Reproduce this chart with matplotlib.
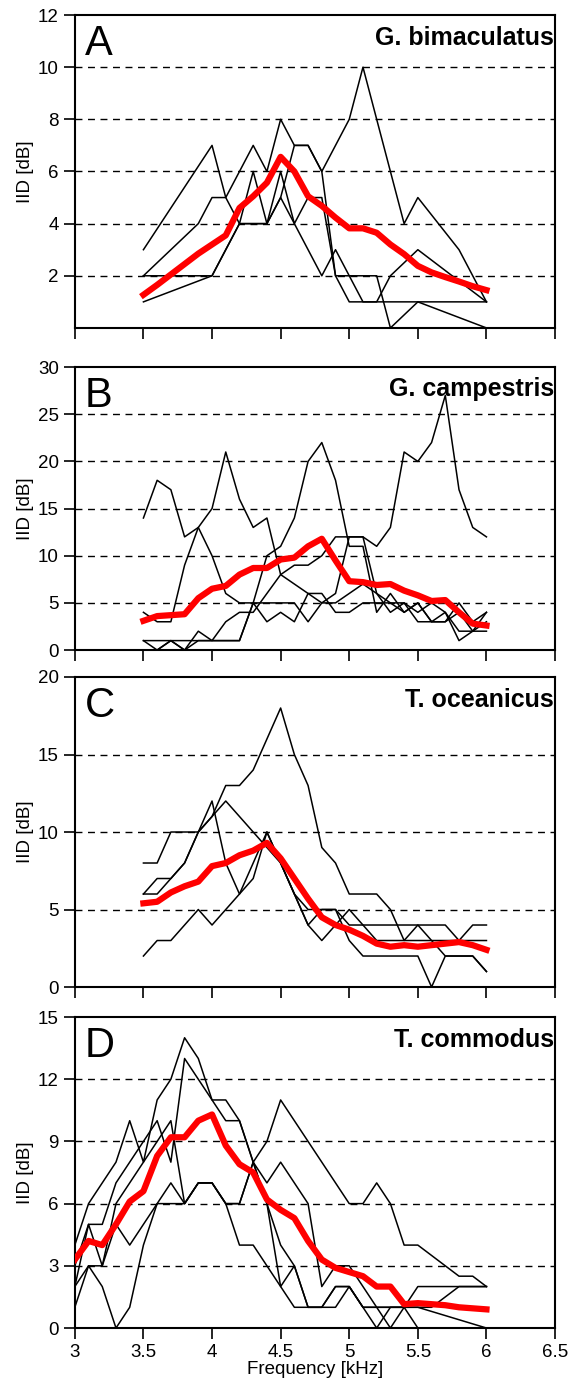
import numpy as np
import matplotlib
matplotlib.use("Agg")
import matplotlib.pyplot as plt

plt.rcParams['font.family'] = ['Liberation Sans', 'DejaVu Sans']

step = list(np.round(np.arange(3.5, 6.01, 0.1), 1))
step_d = list(np.round(np.arange(3.0, 6.01, 0.1), 1))

# Panel A - G. bimaculatus
a_lines = [
    ([3.5, 4.0, 4.1, 4.2, 4.3, 4.4, 4.5, 4.6, 4.8, 4.9, 5.0, 5.1, 5.2, 5.3, 5.5, 6.0],
     [3, 7, 5, 4, 4, 4, 5, 4, 2, 3, 2, 2, 2, 0, 1, 0]),
    ([3.5, 3.9, 4.0, 4.1, 4.3, 4.4, 4.5, 4.6, 4.7, 4.8, 5.0, 5.1, 5.2, 5.4, 5.5, 5.8, 6.0],
     [2, 4, 5, 5, 7, 6, 8, 7, 7, 6, 8, 10, 8, 4, 5, 3, 1]),
    ([3.5, 4.0, 4.2, 4.4, 4.5, 4.6, 4.7, 4.8, 4.9, 5.0, 5.2, 5.3, 5.5, 6.0],
     [1, 2, 4, 4, 6, 4, 5, 5, 2, 1, 1, 2, 3, 1]),
    ([3.5, 4.0, 4.2, 4.3, 4.4, 4.5, 4.6, 4.7, 4.8, 4.9, 5.0, 5.1, 5.2, 5.5, 6.0],
     [2, 2, 4, 6, 4, 5, 7, 7, 6, 2, 2, 1, 1, 1, 1]),
]
a_mean = [1.27, 1.65, 2.05, 2.45, 2.85, 3.2, 3.55, 4.6, 5.05, 5.57, 6.56, 6.0, 5.05,
          4.68, 4.23, 3.82, 3.82, 3.65, 3.2, 2.83, 2.38, 2.13, 1.95, 1.78, 1.6, 1.45]

# Panel B - G. campestris
b_lines = [
    [14, 18, 17, 12, 13, 10, 6, 5, 5, 5, 5, 5, 3, 5, 6, 12, 12, 11, 13, 21, 20, 22, 27, 17, 13, 12],
    [4, 3, 3, 9, 13, 15, 21, 16, 13, 14, 8, 7, 6, 5, 5, 6, 7, 6, 4, 5, 3, 3, 4, 2, 2, 3],
    [1, 0, 1, 0, 2, 1, 1, 1, 5, 10, 11, 14, 20, 22, 18, 11, 11, 4, 6, 4, 5, 3, 3, 4, 2, 2],
    [0, 0, 1, 0, 1, 1, 3, 4, 4, 6, 8, 9, 9, 10, 12, 12, 12, 6, 5, 5, 4, 5, 4, 1, 2, 4],
    [1, 1, 1, 1, 1, 1, 1, 1, 5, 3, 4, 3, 6, 6, 4, 4, 5, 5, 5, 4, 5, 3, 3, 5, 3, 4],
]
b_mean = [3.1, 3.6, 3.7, 3.8, 5.5, 6.5, 6.8, 8.0, 8.7, 8.7, 9.6, 9.8, 11.0, 11.8, 9.5,
          7.3, 7.2, 6.9, 7.0, 6.3, 5.8, 5.2, 5.3, 4.0, 2.8, 2.6]

# Panel C - T. oceanicus
c_lines = [
    [6, 7, 7, 8, 10, 11, 13, 13, 14, 16, 18, 15, 13, 9, 8, 6, 6, 6, 5, 3, 4, 4, 4, 3, 3, 3],
    [8, 8, 10, 10, 10, 12, 8, 6, 7, 10, 8, 6, 4, 3, 4, 5, 4, 4, 4, 4, 4, 3, 3, 3, 4, 4],
    [6, 6, 7, 8, 10, 11, 12, 11, 10, 9, 8, 6, 4, 5, 5, 3, 2, 2, 2, 2, 2, 0, 2, 2, 2, 1],
    [2, 3, 3, 4, 5, 4, 5, 6, 8, 10, 8, 6, 5, 5, 5, 4, 4, 3, 3, 3, 3, 3, 2, 2, 2, 1],
]
c_mean = [5.4, 5.5, 6.1, 6.5, 6.8, 7.8, 8.0, 8.5, 8.8, 9.3, 8.3, 7.0, 5.7, 4.5, 4.0,
          3.7, 3.3, 2.8, 2.6, 2.7, 2.6, 2.7, 2.8, 2.9, 2.7, 2.4]

# Panel D - T. commodus
d_lines = [
    [4, 6, 7, 8, 10, 8, 11, 12, 14, 13, 11, 11, 10, 8, 7, 8, 7, 6, 2, 3, 3, 2, 1, 1, 1, 2, 2, 2, 2, 2, 2],
    [3, 5, 5, 7, 8, 9, 10, 8, 13, 12, 11, 10, 10, 8, 9, 11, 10, 9, 8, 7, 6, 6, 7, 6, 4, 4, 3.5, 3, 2.5, 2.5, 2],
    [2, 5, 3, 5, 4, 5, 6, 7, 6, 7, 7, 6, 6, 8, 6, 2, 3, 1, 1, 1, 2, 1, 0, 1, 1, 1, 1, 1.5, 2, 2, 2],
    [2, 3, 2, 0, 1, 4, 6, 6, 6, 7, 7, 6, 4, 4, 3, 2, 1, 1, 1, 2, 2, 1, 1, 1, 1, 1, 0.8, 0.6, 0.4, 0.2, 0],
    [1, 3, 3, 6, 7, 8, 9, 10, 6, 7, 7, 6, 6, 8, 6, 4, 3, 1, 1, 2, 2, 1, 1, 0, 1, 0, None, None, None, None, None],
]
d_mean = [3.3, 4.2, 4.0, 5.0, 6.1, 6.6, 8.3, 9.2, 9.2, 10.0, 10.3, 8.8, 7.9, 7.5, 6.2, 5.7,
          5.3, 4.2, 3.3, 2.9, 2.7, 2.5, 2.0, 2.0, 1.15, 1.2, 1.15, 1.1, 1.0, 0.95, 0.9]

fig = plt.figure(figsize=(5.8, 13.89), dpi=100)
rects = [
    [0.129, 0.7639, 0.828, 0.2253],
    [0.129, 0.532, 0.828, 0.2037],
    [0.129, 0.2894, 0.828, 0.2232],
    [0.129, 0.0439, 0.828, 0.2239],
]
panels = [
    ("A", "G. bimaculatus", 12, np.arange(2, 13, 2), np.arange(2, 11, 2)),
    ("B", "G. campestris", 30, np.arange(0, 31, 5), np.arange(5, 26, 5)),
    ("C", "T. oceanicus", 20, np.arange(0, 21, 5), np.arange(5, 16, 5)),
    ("D", "T. commodus", 15, np.arange(0, 16, 3), np.arange(3, 13, 3)),
]

for i, (letter, name, ymax, yticks, grid) in enumerate(panels):
    ax = fig.add_axes(rects[i])
    for g in grid:
        ax.axhline(g, color='black', lw=1, ls=(0, (5, 4)), zorder=1)
    if i == 0:
        for xs, ys in a_lines:
            ax.plot(xs, ys, color='black', lw=1.1, zorder=2)
        ax.plot(step, a_mean, color='#ff0000', lw=4.5, zorder=3)
    elif i == 1:
        for ys in b_lines:
            ax.plot(step, ys, color='black', lw=1.1, zorder=2)
        ax.plot(step, b_mean, color='#ff0000', lw=4.5, zorder=3)
    elif i == 2:
        for ys in c_lines:
            ax.plot(step, ys, color='black', lw=1.1, zorder=2)
        ax.plot(step, c_mean, color='#ff0000', lw=4.5, zorder=3)
    else:
        for ys in d_lines:
            ax.plot(step_d, [np.nan if v is None else v for v in ys], color='black', lw=1.1, zorder=2)
        ax.plot(step_d, d_mean, color='#ff0000', lw=4.5, zorder=3)

    ax.set_xlim(3, 6.5)
    ax.set_ylim(0, ymax)
    ax.set_xticks(np.arange(3, 6.51, 0.5))
    ax.set_yticks(yticks)
    ax.tick_params(direction='out', length=8, width=1.2, labelsize=13.5)
    for s in ax.spines.values():
        s.set_linewidth(1.5)
    if i < 3:
        ax.set_xticklabels([])
    else:
        ax.set_xticklabels(['3', '3.5', '4', '4.5', '5', '5.5', '6', '6.5'])
        ax.set_xlabel('Frequency [kHz]', fontsize=13.5, labelpad=0)
    ax.set_ylabel('IID [dB]', fontsize=13.5, labelpad=3)
    ax.text(0.02, 0.97, letter, transform=ax.transAxes, fontsize=30, va='top', ha='left')
    ax.text(0.998, 0.965, name, transform=ax.transAxes, fontsize=18, fontweight='bold',
            va='top', ha='right')

fig.savefig('out.png', dpi=100)
